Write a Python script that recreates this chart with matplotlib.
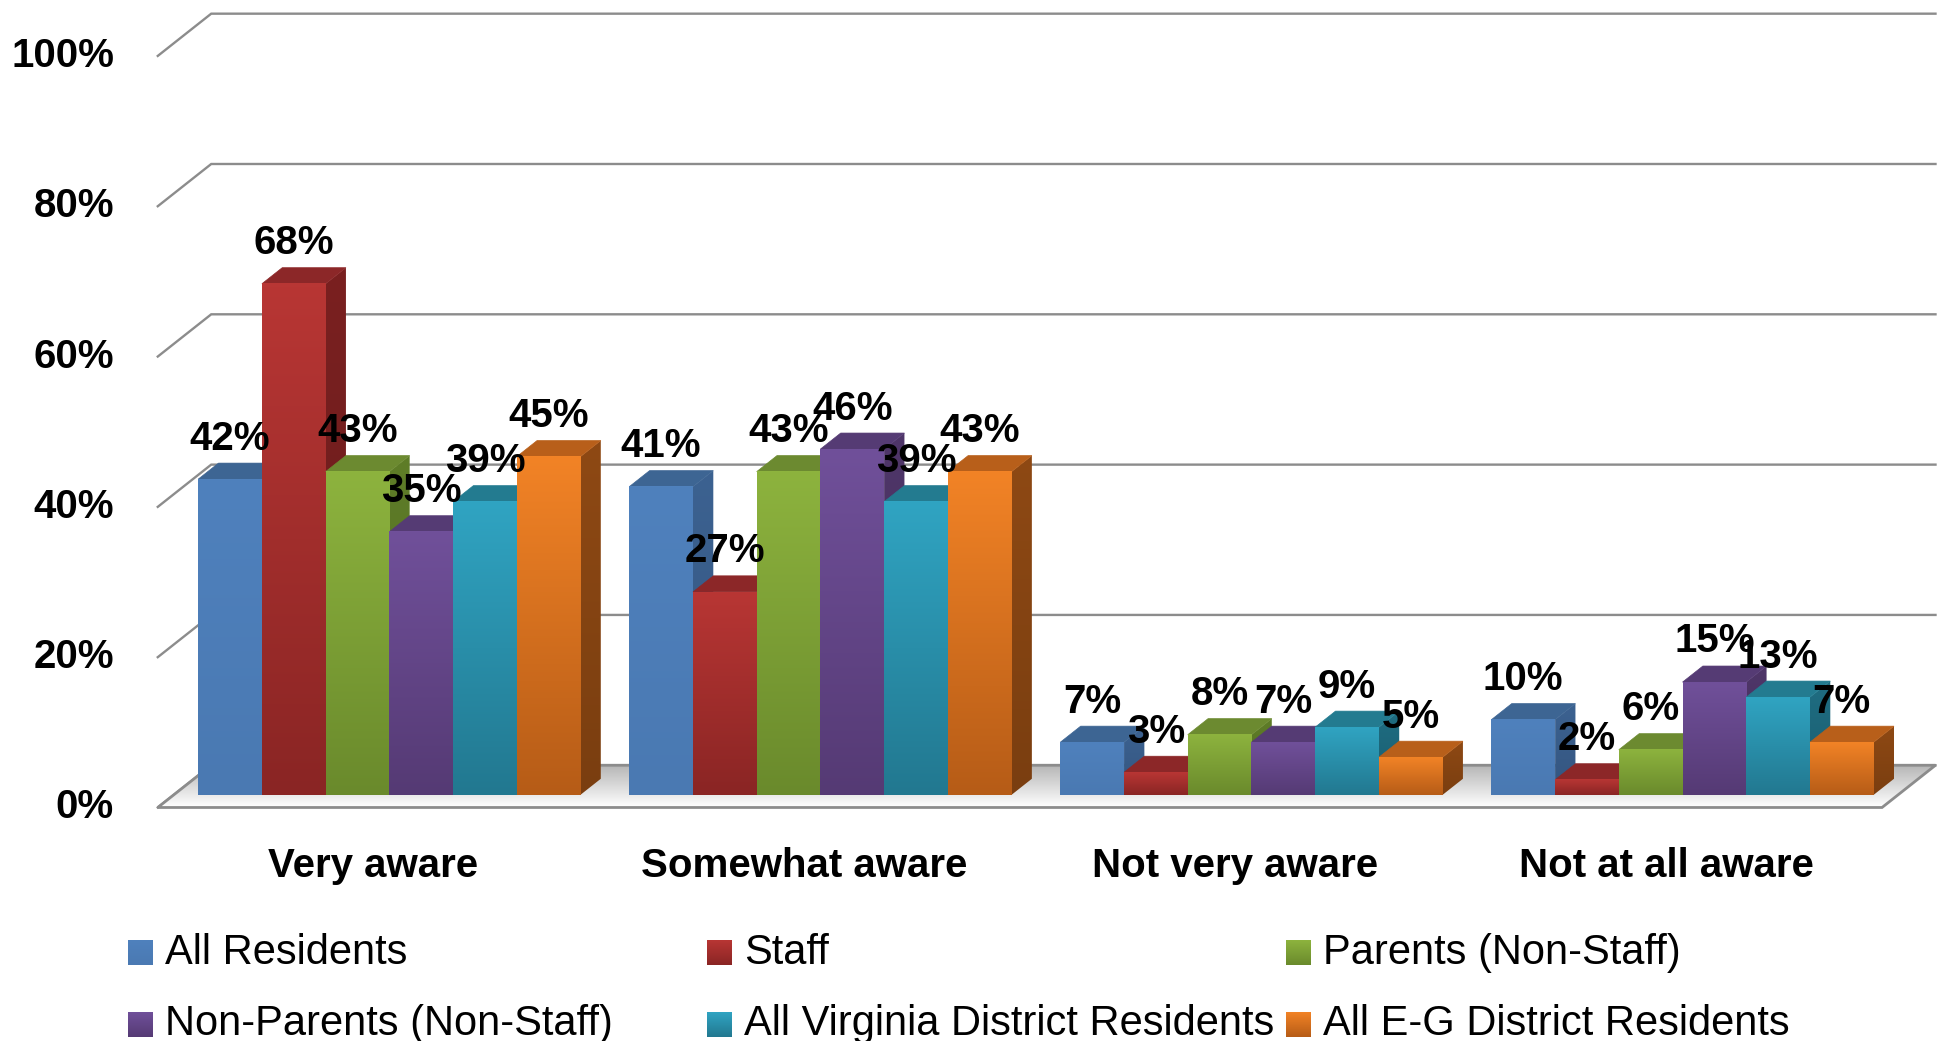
import numpy as np
import matplotlib
matplotlib.use("Agg")
import matplotlib.pyplot as plt
from matplotlib.patches import Polygon
from matplotlib.colors import LinearSegmentedColormap

# Data
categories = ["Very aware", "Somewhat aware", "Not very aware", "Not at all aware"]
series_names = ["All Residents", "Staff", "Parents (Non-Staff)",
                "Non-Parents (Non-Staff)", "All Virginia District Residents",
                "All E-G District Residents"]
all_residents = [42, 41, 7, 10]
staff = [68, 27, 3, 2]
parents = [43, 43, 8, 6]
non_parents = [35, 46, 7, 15]
virginia = [39, 39, 9, 13]
eg_district = [45, 43, 5, 7]
y_ticks = [0, 20, 40, 60, 80, 100]

values = [all_residents, staff, parents, non_parents, virginia, eg_district]

# front top, front bottom, side top, side bottom, top face
PALETTE = [
    ("#4F81BD", "#4A79B2", "#3C6291", "#34557F", "#3D6593"),
    ("#B83634", "#8A2524", "#7A2020", "#691C1C", "#8C2728"),
    ("#8DB33E", "#6A8A2C", "#5F7D28", "#506A22", "#6C8A30"),
    ("#70509A", "#553A74", "#4F3669", "#432E5A", "#553B74"),
    ("#30A4C2", "#227890", "#1F6D82", "#1A5D6F", "#237B90"),
    ("#F28326", "#B65C17", "#8E4914", "#7A3E10", "#B85F1A"),
]

# 3D look
DX, DY = 0.124, 5.62      # depth offset (x units, percent)
D0, D1 = 0.30, 0.68       # bar front / back depth
BW = 0.1478               # bar width
GRID = "#8c8c8c"

plt.rcParams["font.family"] = ["Liberation Sans", "DejaVu Sans"]
plt.rcParams["image.composite_image"] = False

fig = plt.figure(figsize=(19.48, 10.41), dpi=100, facecolor="white")
ax = fig.add_axes([0, 0, 1, 1])
ax.set_axis_off()


def grad(x0, x1, y0, y1, c_bot, c_top, z, clip=None):
    cmap = LinearSegmentedColormap.from_list("g", [c_bot, c_top])
    im = ax.imshow(np.linspace(0, 1, 128).reshape(-1, 1), cmap=cmap,
                   extent=(x0, x1, y0, y1), origin="lower", aspect="auto",
                   interpolation="bilinear", zorder=z)
    if clip is not None:
        im.set_clip_path(clip)
    return im


# gridlines: front-left diagonal then back wall
left, right = -0.5, len(categories) - 0.5
for t in y_ticks:
    ax.plot([left, left + DX, right + DX], [t, t + DY, t + DY],
            color=GRID, lw=1.7, zorder=1, solid_joinstyle="miter")
    ax.text(-0.6015, t, f"{t}%", ha="right", va="center",
            fontsize=29, fontweight="bold", zorder=20)

# floor
floor_pts = [(left, 0), (right, 0), (right + DX, DY), (left + DX, DY)]
floor_top = Polygon(floor_pts, closed=True, facecolor="none", edgecolor="none", zorder=2)
ax.add_patch(floor_top)
grad(left, right + DX, 0, DY, "#ffffff", "#b4b4b4", 2, clip=floor_top)
ax.add_patch(Polygon(floor_pts, closed=True, facecolor="none", edgecolor=GRID,
                     lw=2.0, joinstyle="miter", zorder=2.1))

# bars
z = 3.0
labels = []
for i in range(len(categories)):
    for j, vals in enumerate(values):
        v = vals[i]
        ft, fb, st, sb, tc = PALETTE[j]
        x0 = i - 3 * BW + j * BW
        x1 = x0 + BW
        # side face
        side = Polygon([(x1 + D0 * DX, D0 * DY), (x1 + D1 * DX, D1 * DY),
                        (x1 + D1 * DX, v + D1 * DY), (x1 + D0 * DX, v + D0 * DY)],
                       closed=True, facecolor="none", edgecolor="none", zorder=z)
        ax.add_patch(side)
        grad(x1 + D0 * DX, x1 + D1 * DX, D0 * DY, v + D1 * DY, sb, st, z, clip=side)
        z += 0.01
        # top face
        ax.add_patch(Polygon([(x0 + D0 * DX, v + D0 * DY), (x1 + D0 * DX, v + D0 * DY),
                              (x1 + D1 * DX, v + D1 * DY), (x0 + D1 * DX, v + D1 * DY)],
                             closed=True, facecolor=tc, edgecolor=tc, lw=0.5, zorder=z))
        z += 0.01
        # front face
        grad(x0 + D0 * DX, x1 + D0 * DX, D0 * DY, v + D0 * DY, fb, ft, z)
        z += 0.01
        labels.append(((x0 + x1) / 2 + D0 * DX, v + D0 * DY + 5.4, f"{v}%"))

for x, y, s in labels:
    ax.text(x, y, s, ha="center", va="center", fontsize=29,
            fontweight="bold", zorder=20)

for i, cat in enumerate(categories):
    ax.text(i, -7.77, cat, ha="center", va="center", fontsize=29,
            fontweight="bold", zorder=20)

# legend (3 columns x 2 rows)
xlim = (-0.866, 3.653)
ylim = (-31.07, 107.44)


def fx(f):
    return xlim[0] + f * (xlim[1] - xlim[0])


def fy(f):
    return ylim[0] + f * (ylim[1] - ylim[0])


for k, name in enumerate(series_names):
    row, col = divmod(k, 3)
    cx = 0.0659 + col * 0.2972
    cy = 0.0850 - row * 0.0687
    ft, fb = PALETTE[k][0], PALETTE[k][1]
    grad(fx(cx), fx(cx + 0.0128), fy(cy - 0.012), fy(cy + 0.012), fb, ft, 20)
    ax.text(cx + 0.0188, cy, name, transform=ax.transAxes, ha="left",
            va="center", fontsize=30, zorder=20)

ax.set_xlim(*xlim)
ax.set_ylim(*ylim)
fig.savefig("out.png", dpi=100, facecolor="white")
